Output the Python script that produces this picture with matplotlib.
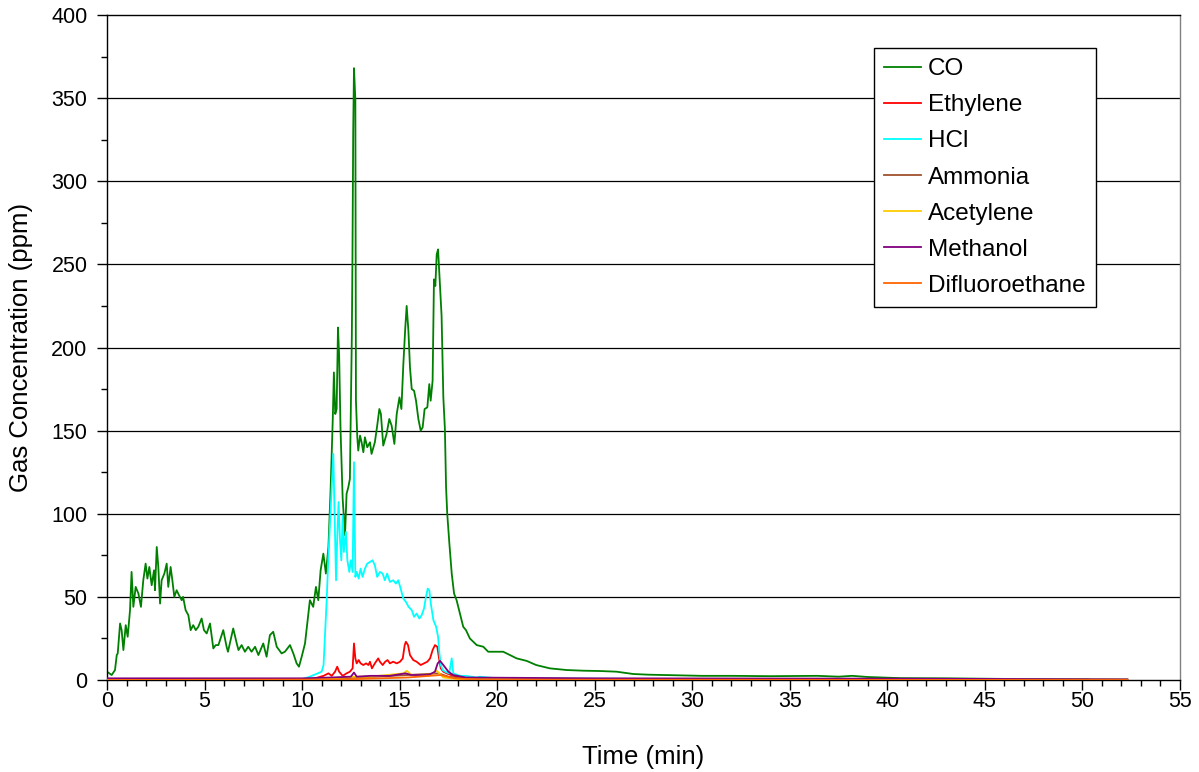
import matplotlib
matplotlib.use("Agg")
from matplotlib import pyplot as plt
from matplotlib.ticker import MultipleLocator

plt.rcParams['font.family'] = ['Liberation Sans', 'DejaVu Sans']

# CO (ppm) vs time (min)
co_t = [0.0, 0.24, 0.41, 0.5, 0.55, 0.67, 0.75, 0.84, 0.96, 1.06, 1.18, 1.23, 1.26, 1.35, 1.47,
        1.61, 1.74, 1.86, 1.98, 2.07, 2.17, 2.29, 2.41, 2.46, 2.55, 2.63, 2.72, 2.8, 2.94, 3.06,
        3.14, 3.26, 3.35, 3.45, 3.57, 3.69, 3.83, 3.9, 4.03, 4.17, 4.29, 4.42, 4.55, 4.68, 4.85,
        4.97, 5.11, 5.28, 5.45, 5.57, 5.71, 5.96, 6.13, 6.2, 6.47, 6.65, 6.74, 6.9, 7.07, 7.24,
        7.41, 7.59, 7.76, 8.01, 8.18, 8.35, 8.52, 8.7, 8.95, 9.12, 9.38, 9.55, 9.72, 9.84, 9.98,
        10.15, 10.32, 10.4, 10.57, 10.71, 10.83, 10.95, 11.09, 11.22, 11.35, 11.46, 11.57, 11.63,
        11.7, 11.77, 11.84, 11.9, 11.97, 12.08, 12.2, 12.28, 12.37, 12.45, 12.55, 12.58, 12.62,
        12.66, 12.73, 12.76, 12.83, 12.88, 12.97, 13.05, 13.14, 13.22, 13.34, 13.48, 13.56, 13.73,
        13.85, 13.96, 14.04, 14.16, 14.33, 14.47, 14.59, 14.73, 14.85, 14.99, 15.09, 15.19, 15.29,
        15.36, 15.45, 15.53, 15.62, 15.74, 15.84, 15.96, 16.08, 16.18, 16.28, 16.42, 16.52, 16.59,
        16.69, 16.76, 16.83, 16.9, 16.97, 17.07, 17.15, 17.24, 17.32, 17.38, 17.44, 17.55, 17.67,
        17.79, 17.92, 18.09, 18.26, 18.4, 18.6, 18.95, 19.29, 19.54, 19.97, 20.31, 20.66, 21.0,
        21.51, 22.0, 22.7, 23.56, 24.41, 25.27, 26.12, 26.98, 27.75, 28.5, 30.5, 32.0, 34.0, 36.4,
        37.5, 38.2, 39.0, 40.7, 43.0, 46.5, 50.3]
co = [5, 3, 6, 15, 16, 34, 30, 18, 33, 26, 42, 57, 65, 44, 56,
      52, 44, 60, 70, 61, 68, 57, 66, 54, 80, 68, 46, 60, 64, 70,
      56, 68, 60, 50, 54, 51, 48, 50, 42, 39, 30, 33, 30, 32, 37,
      30, 28, 34, 19, 21, 21, 30, 20, 17, 31, 22, 18, 21, 17, 20,
      17, 20, 15, 22, 14, 27, 29, 20, 16, 17, 21, 16, 10, 8, 14,
      22, 40, 48, 44, 56, 48, 66, 76, 64, 80, 114, 156, 185,
      160, 163, 212, 195, 151, 109, 87, 112, 116, 121, 207, 251, 330,
      368, 349, 168, 146, 138, 147, 143, 137, 146, 140, 143, 136, 143,
      153, 163, 160, 141, 148, 157, 153, 142, 160, 170, 163, 190, 212,
      225, 210, 188, 175, 174, 168, 157, 150, 152, 163, 164, 178, 168,
      180, 241, 237, 256, 259, 237, 219, 170, 151, 116, 100, 82, 64,
      52, 48, 40, 32, 30, 25, 21, 20, 17, 17, 17, 15, 13,
      11.5, 9, 7, 6, 5.6, 5.4, 5, 3.6, 3.2, 3, 2.5, 2.5, 2.3, 2.5,
      2, 2.5, 1.8, 1.1, 1, 0.6, 0.5]

ethylene_t = [0.0, 10.5, 11.1, 11.35, 11.52, 11.69, 11.8, 11.9, 12.08, 12.28, 12.45, 12.59, 12.66,
              12.73, 12.8, 12.9, 13.0, 13.14, 13.28, 13.4, 13.48, 13.58, 13.73, 13.9, 13.99, 14.13,
              14.26, 14.38, 14.5, 14.67, 14.85, 15.02, 15.16, 15.26, 15.32, 15.43, 15.53, 15.7,
              15.87, 16.08, 16.25, 16.42, 16.56, 16.69, 16.81, 16.93, 17.02, 17.11, 17.24, 17.41,
              17.75, 18.26, 20.0, 52.3]
ethylene = [0.5, 0.5, 2.5, 4, 2.5, 5, 8, 5, 2.5, 4, 5, 7, 22,
            13, 10, 12, 10, 9, 10, 9, 11, 7, 10, 13, 11, 9,
            11, 12, 10, 11, 10, 11, 13, 21, 23, 21, 15, 12,
            11, 9, 10, 11, 13, 18, 21, 20, 13, 7, 5, 4,
            2.5, 1.2, 0.5, 0.3]

hcl_t = [0.0, 10.0, 10.4, 11.0, 11.1, 11.26, 11.35, 11.43, 11.53, 11.6, 11.67, 11.74, 11.8, 11.87,
         11.94, 12.01, 12.08, 12.14, 12.25, 12.32, 12.42, 12.5, 12.59, 12.66, 12.73, 12.8, 12.9,
         13.0, 13.1, 13.22, 13.34, 13.48, 13.61, 13.73, 13.85, 13.99, 14.13, 14.24, 14.36, 14.5,
         14.67, 14.81, 14.93, 15.05, 15.19, 15.32, 15.46, 15.62, 15.74, 15.87, 16.01, 16.13, 16.25,
         16.35, 16.44, 16.52, 16.61, 16.73, 16.87, 16.97, 17.04, 17.11, 17.21, 17.33, 17.54, 17.67,
         17.75, 18.09, 18.4, 18.94, 19.1, 20.0, 25.0, 30.0, 40.0, 52.3]
hcl = [0, 0.5, 2, 5, 9, 48, 75, 94, 119, 136, 97, 60, 85, 107,
       85, 72, 99, 77, 89, 72, 65, 72, 65, 131, 62, 65, 61,
       67, 62, 67, 70, 71, 72, 69, 62, 65, 64, 60, 64, 59,
       60, 58, 60, 55, 49, 47, 44, 42, 38, 40, 37, 39, 43,
       50, 55, 54, 45, 36, 32, 26, 16, 9, 6, 5, 4, 13,
       4, 2.5, 2.5, 1.5, 2, 1, 0.8, 0.5, 0.5, 0.3]

ammonia_t = [0.0, 11.0, 13.0, 15.4, 17.0, 17.5, 18.5, 52.3]
ammonia = [0.2, 0.3, 1.5, 3, 4, 2, 0.5, 0.2]

acetylene_t = [0.0, 11.0, 12.66, 13.5, 15.2, 15.36, 15.62, 16.5, 16.9, 17.07, 17.24, 18.0, 52.3]
acetylene = [0.3, 0.5, 2, 2, 4, 5.5, 3, 2.5, 5.6, 3.6, 1.5, 0.5, 0.2]

methanol_t = [0.0, 10.0, 11.5, 12.5, 12.66, 12.8, 13.5, 14.5, 15.3, 15.6, 16.5, 16.81, 16.95,
              17.07, 17.24, 17.5, 17.75, 18.4, 25.0, 41.0, 52.3]
methanol = [1, 1, 1.5, 2, 4.5, 2, 2.5, 2.5, 4, 3, 3, 5, 10,
            11.5, 9, 5, 3, 1.5, 1, 0.8, 0.3]

difluoro_t = [0.0, 12.0, 15.4, 17.1, 17.8, 19.0, 52.3]
difluoro = [0, 0.3, 1.5, 3, 1, 0.2, 0]

fig = plt.figure(figsize=(11.99, 7.72), dpi=100)
ax = fig.add_axes([107 / 1199, 92 / 772, 1073 / 1199, 665 / 772])

for yv in range(50, 400, 50):
    ax.axhline(yv, color='black', lw=0.9, zorder=1)

ax.plot(co_t, co, color='#008000', lw=1.3, label='CO', zorder=2)
ax.plot(ethylene_t, ethylene, color='#FF0000', lw=1.3, label='Ethylene', zorder=3)
ax.plot(hcl_t, hcl, color='#00FFFF', lw=1.3, label='HCl', zorder=4)
ax.plot(ammonia_t, ammonia, color='#A0522D', lw=1.3, label='Ammonia', zorder=5)
ax.plot(acetylene_t, acetylene, color='#FFCC00', lw=1.3, label='Acetylene', zorder=6)
ax.plot(methanol_t, methanol, color='#800080', lw=1.3, label='Methanol', zorder=7)
ax.plot(difluoro_t, difluoro, color='#FF6600', lw=1.3, label='Difluoroethane', zorder=8)

ax.set_xlim(0, 55)
ax.set_ylim(0, 400)
ax.xaxis.set_major_locator(MultipleLocator(5))
ax.xaxis.set_minor_locator(MultipleLocator(1))
ax.yaxis.set_major_locator(MultipleLocator(50))
ax.yaxis.set_minor_locator(MultipleLocator(25))
ax.tick_params(which='major', direction='out', length=7, width=1, labelsize=15.5, color='black')
ax.tick_params(which='minor', direction='out', length=4, width=1, color='black')
ax.tick_params(axis='x', which='major', pad=1)
ax.tick_params(axis='y', which='major', pad=7)
for s in ax.spines.values():
    s.set_color('black')
    s.set_linewidth(1)
ax.spines['right'].set_color('#808080')

ax.set_xlabel('Time (min)', fontsize=18.5, labelpad=24)
ax.set_ylabel('Gas Concentration (ppm)', fontsize=18.5, labelpad=13)

leg = ax.legend(loc='upper left', bbox_to_anchor=(874 / 1199, 1 - 48 / 772),
                bbox_transform=fig.transFigure, fontsize=17.5, frameon=True, fancybox=False,
                edgecolor='black', framealpha=1, borderpad=0.42, labelspacing=0.58,
                handlelength=1.5, handletextpad=0.3, borderaxespad=0)
leg.get_frame().set_linewidth(1)

fig.savefig('out.png', dpi=100)
